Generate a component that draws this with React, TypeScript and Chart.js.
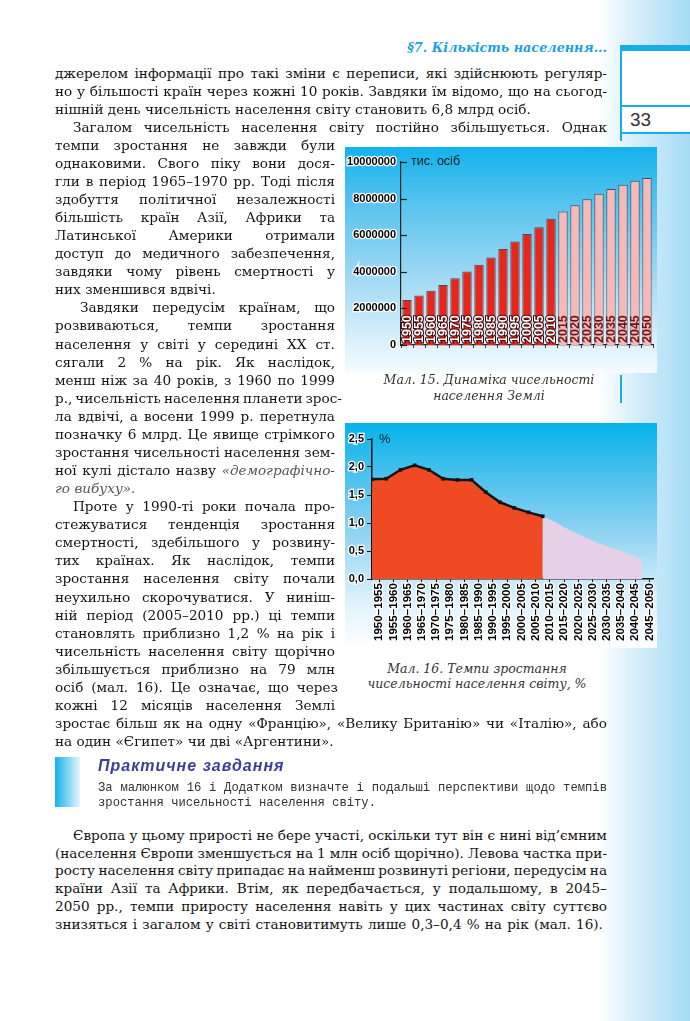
import React, { useEffect, useRef } from "react";
import { Chart, registerables } from "chart.js";

Chart.register(...registerables);

// ---------- Chart 15 data: world population, thousand people ----------
const years = ["1950","1955","1960","1965","1970","1975","1980","1985","1990","1995","2000","2005","2010","2015","2020","2025","2030","2035","2040","2045","2050"];
const population = [2460000, 2700000, 2960000, 3280000, 3650000, 4010000, 4380000, 4780000, 5250000, 5650000, 6060000, 6440000, 6900000, 7300000, 7640000, 7970000, 8260000, 8520000, 8760000, 8980000, 9120000];
const forecastStartYear = 2015;
const popTicks = [0, 2000000, 4000000, 6000000, 8000000, 10000000];

// ---------- Chart 16 data: growth rate, % per year ----------
const periods = ["1950–1955","1955–1960","1960–1965","1965–1970","1970–1975","1975–1980","1980–1985","1985–1990","1990–1995","1995–2000","2000–2005","2005–2010","2010–2015","2015–2020","2020–2025","2025–2030","2030–2035","2035–2040","2040–2045","2045–2050"];
const growthActual = [1.78, 1.79, 1.95, 2.03, 1.95, 1.79, 1.77, 1.77, 1.55, 1.37, 1.27, 1.19, 1.12];
const growthForecast = [1.12, 1.0, 0.86, 0.74, 0.63, 0.54, 0.45, 0.34];
const growthTicks = [0, 0.5, 1, 1.5, 2, 2.5];

const RED = "#e8261c";
const PINK = "#f6b8b8";
const AREA_RED = "#ef4a23";
const AREA_PINK = "#e6d0e7";
const TICK_FONT = { family: "'Liberation Sans', Arial, sans-serif", weight: "bold" as const, size: 11 };
const PERIOD_FONT = { family: "'Liberation Sans', Arial, sans-serif", weight: "bold" as const, size: 11.6 };

// ---------- page text ----------
// [text, justify, indent, width]
type Line = [string, boolean, number, number];
const FULL = 552;
const NARROW = 280;
const mainLines: Line[] = [
  ["джерелом інформації про такі зміни є переписи, які здійснюють регуляр-", true, 0, FULL],
  ["но у більшості країн через кожні 10 років. Завдяки їм відомо, що на сьогод-", true, 0, FULL],
  ["нішній день чисельність населення світу становить 6,8 млрд осіб.", false, 0, FULL],
  ["Загалом чисельність населення світу постійно збільшується. Однак", true, 18, FULL],
  ["темпи зростання не завжди були", true, 0, NARROW],
  ["однаковими. Свого піку вони дося-", true, 0, NARROW],
  ["гли в період 1965–1970 рр. Тоді після", true, 0, NARROW],
  ["здобуття політичної незалежності", true, 0, NARROW],
  ["більшість країн Азії, Африки та", true, 0, NARROW],
  ["Латинської Америки отримали", true, 0, NARROW],
  ["доступ до медичного забезпечення,", true, 0, NARROW],
  ["завдяки чому рівень смертності у", true, 0, NARROW],
  ["них зменшився вдвічі.", false, 0, NARROW],
  ["Завдяки передусім країнам, що", true, 25, NARROW],
  ["розвиваються, темпи зростання", true, 0, NARROW],
  ["населення у світі у середині XX ст.", true, 0, NARROW],
  ["сягали 2 % на рік. Як наслідок,", true, 0, NARROW],
  ["менш ніж за 40 років, з 1960 по 1999", true, 0, NARROW],
  ["р., чисельність населення планети зрос-", true, 0, 287],
  ["ла вдвічі, а восени 1999 р. перетнула", true, 0, NARROW],
  ["позначку 6 млрд. Це явище стрімкого", true, 0, NARROW],
  ["зростання чисельності населення зем-", true, 0, NARROW],
  ["ної кулі дістало назву ~«демографічно-", true, 0, NARROW],
  ["~го ~вибуху».", false, 0, NARROW],
  ["Проте у 1990-ті роки почала про-", true, 18, NARROW],
  ["стежуватися тенденція зростання", true, 0, NARROW],
  ["смертності, здебільшого у розвину-", true, 0, NARROW],
  ["тих країнах. Як наслідок, темпи", true, 0, NARROW],
  ["зростання населення світу почали", true, 0, NARROW],
  ["неухильно скорочуватися. У ниніш-", true, 0, NARROW],
  ["ній період (2005–2010 рр.) ці темпи", true, 0, NARROW],
  ["становлять приблизно 1,2 % на рік і", true, 0, NARROW],
  ["чисельність населення світу щорічно", true, 0, NARROW],
  ["збільшується приблизно на 79 млн", true, 0, NARROW],
  ["осіб (мал. 16). Це означає, що через", true, 0, 283],
  ["кожні 12 місяців населення Землі", true, 0, NARROW],
  ["зростає більш як на одну «Францію», «Велику Британію» чи «Італію», або", true, 0, FULL],
  ["на один «Єгипет» чи дві «Аргентини».", false, 0, FULL],
];
const finalLines: Line[] = [
  ["Європа у цьому прирості не бере участі, оскільки тут він є нині від’ємним", true, 18, FULL],
  ["(населення Європи зменшується на 1 млн осіб щорічно). Левова частка при-", true, 0, FULL],
  ["росту населення світу припадає на найменш розвинуті регіони, передусім на", true, 0, FULL],
  ["країни Азії та Африки. Втім, як передбачається, у подальшому, в 2045–", true, 0, FULL],
  ["2050 рр., темпи приросту населення навіть у цих частинах світу суттєво", true, 0, FULL],
  ["знизяться і загалом у світі становитимуть лише 0,3–0,4 % на рік (мал. 16).", true, 0, 548],
];
const taskLines: Line[] = [
  ["За малюнком 16 і Додатком визначте і подальші перспективи щодо темпів", true, 0, 509],
  ["зростання чисельності населення світу.", false, 0, 509],
];

const BODY_FONT = "'DejaVu Serif', 'Liberation Serif', serif";

function TextLine({ line, y, left, size, font, color, lh }: { line: Line; y: number; left: number; size: number; font: string; color: string; lh: number }) {
  const [text, justify, indent, width] = line;
  const words = text.split(" ");
  const render = (w: string, i: number) => {
    const italic = w.startsWith("~");
    const t = italic ? w.slice(1) : w;
    return (
      <span key={i} style={italic ? { fontStyle: "italic", color: "#555" } : undefined}>
        {t}
        {!justify && i < words.length - 1 ? " " : ""}
      </span>
    );
  };
  return (
    <div
      style={{
        position: "absolute",
        left: left + indent,
        top: y - lh / 2,
        width: width - indent,
        height: lh,
        lineHeight: lh + "px",
        fontFamily: font,
        fontSize: size,
        color,
        whiteSpace: "pre",
        display: "flex",
        justifyContent: justify ? "space-between" : "flex-start",
      }}
    >
      {words.map(render)}
    </div>
  );
}

function ChartCanvas({ left, top, width, height, make }: { left: number; top: number; width: number; height: number; make: () => any }) {
  const ref = useRef<HTMLCanvasElement | null>(null);
  useEffect(() => {
    const chart = new Chart(ref.current as HTMLCanvasElement, make());
    return () => chart.destroy();
  }, []);
  return (
    <canvas
      ref={ref}
      width={width}
      height={height}
      style={{ position: "absolute", left, top, width, height }}
    />
  );
}

// plugin: inward y ticks, unit label, year labels inside bars
const populationDecor = {
  id: "populationDecor",
  afterDatasetsDraw(chart: any) {
    const { ctx, chartArea } = chart;
    const y = chart.scales.y;
    ctx.save();
    ctx.strokeStyle = "#222";
    ctx.lineWidth = 1.2;
    popTicks.forEach((v) => {
      const py = Math.round(y.getPixelForValue(v)) + 0.5;
      ctx.beginPath();
      ctx.moveTo(chartArea.left, py);
      ctx.lineTo(chartArea.left + 6, py);
      ctx.stroke();
    });
    ctx.font = "12.5px 'Liberation Sans', Arial, sans-serif";
    ctx.fillStyle = "#1a1a1a";
    ctx.textBaseline = "middle";
    ctx.fillText("тис. осіб", chartArea.left + 10, y.getPixelForValue(popTicks[popTicks.length - 1]));
    const meta = chart.getDatasetMeta(0);
    meta.data.forEach((bar: any, i: number) => {
      const forecast = Number(years[i]) >= forecastStartYear;
      ctx.save();
      ctx.translate(bar.x + 0.5, bar.base - 2);
      ctx.rotate(-Math.PI / 2);
      ctx.font = "bold 12.5px 'Liberation Sans', Arial, sans-serif";
      ctx.textAlign = "left";
      ctx.textBaseline = "middle";
      if (forecast) {
        ctx.fillStyle = "#6e1414";
        ctx.fillText(years[i], 0, 0);
      } else {
        ctx.lineWidth = 2;
        ctx.strokeStyle = "#4a0606";
        ctx.strokeText(years[i], 0, 0);
        ctx.fillStyle = "#ffffff";
        ctx.fillText(years[i], 0, 0);
      }
      ctx.restore();
    });
    ctx.restore();
  },
};

const growthDecor = {
  id: "growthDecor",
  afterDraw(chart: any) {
    const { ctx, chartArea } = chart;
    const y = chart.scales.y;
    ctx.save();
    ctx.font = "13px 'Liberation Sans', Arial, sans-serif";
    ctx.fillStyle = "#1a1a1a";
    ctx.textBaseline = "middle";
    ctx.fillText("%", chartArea.left + 7, y.getPixelForValue(growthTicks[growthTicks.length - 1]));
    ctx.restore();
  },
};

function makePopulationChart() {
  return {
    type: "bar",
    data: {
      labels: years,
      datasets: [
        {
          data: population,
          backgroundColor: years.map((yr) => (Number(yr) >= forecastStartYear ? PINK : RED)),
          borderColor: "#4a4a4a",
          borderWidth: 1,
          barPercentage: 0.78,
          categoryPercentage: 1,
        },
      ],
    },
    options: {
      animation: false,
      responsive: false,
      maintainAspectRatio: false,
      layout: { padding: { top: 15, right: 4, left: 0, bottom: 0 } },
      plugins: { legend: { display: false }, tooltip: { enabled: false } },
      scales: {
        x: {
          grid: { drawOnChartArea: false, drawTicks: true, tickLength: 3, color: "#333", offset: true },
          border: { display: true, color: "#222", width: 1.2 },
          ticks: { display: false },
          afterFit: (s: any) => {
            s.height = 28;
          },
        },
        y: {
          min: 0,
          max: 10000000,
          afterBuildTicks: (s: any) => {
            s.ticks = popTicks.map((v) => ({ value: v }));
          },
          ticks: {
            callback: (v: number) => String(v),
            font: TICK_FONT,
            color: "#000",
            textStrokeColor: "#ffffff",
            textStrokeWidth: 2.5,
            padding: 5,
          },
          grid: { display: false, drawTicks: false, tickLength: 0 },
          border: { display: true, color: "#222", width: 1.2 },
          afterFit: (s: any) => {
            s.width = 56;
          },
        },
      },
    },
    plugins: [populationDecor],
  };
}

function makeGrowthChart() {
  const start = growthActual.length - 1;
  return {
    type: "line",
    data: {
      datasets: [
        {
          data: growthActual.map((v, i) => ({ x: i, y: v })),
          borderColor: "#151515",
          borderWidth: 2.5,
          backgroundColor: AREA_RED,
          fill: "origin",
          pointStyle: "rect",
          pointRadius: 2.6,
          pointBackgroundColor: "#151515",
          pointBorderColor: "#151515",
          pointBorderWidth: 0,
          tension: 0,
        },
        {
          data: growthForecast.map((v, i) => ({ x: start + i, y: v })),
          borderWidth: 0,
          borderColor: "rgba(0,0,0,0)",
          backgroundColor: AREA_PINK,
          fill: "origin",
          pointRadius: 0,
          tension: 0.2,
        },
      ],
    },
    options: {
      animation: false,
      responsive: false,
      maintainAspectRatio: false,
      layout: { padding: { top: 16, right: 2, left: 0, bottom: 0 } },
      plugins: { legend: { display: false }, tooltip: { enabled: false } },
      scales: {
        x: {
          type: "linear",
          min: 0,
          max: periods.length - 0.25,
          afterBuildTicks: (s: any) => {
            s.ticks = periods.map((_, i) => ({ value: i + 0.5 }));
          },
          ticks: {
            autoSkip: false,
            maxRotation: 90,
            minRotation: 90,
            callback: (_v: number, i: number) => periods[i],
            font: PERIOD_FONT,
            color: "#000",
            textStrokeColor: "#ffffff",
            textStrokeWidth: 2.5,
            padding: 1,
          },
          grid: { drawOnChartArea: false, drawTicks: true, tickLength: 3, color: "#111" },
          border: { display: true, color: "#111", width: 1.5 },
          afterFit: (s: any) => {
            s.height = 69;
            s.paddingLeft = 0;
            s.paddingRight = 0;
          },
        },
        y: {
          min: 0,
          max: 2.5,
          afterBuildTicks: (s: any) => {
            s.ticks = growthTicks.map((v) => ({ value: v }));
          },
          ticks: {
            callback: (v: number) => v.toFixed(1).replace(".", ","),
            font: TICK_FONT,
            color: "#000",
            textStrokeColor: "#ffffff",
            textStrokeWidth: 2.5,
            padding: 3,
          },
          grid: { drawOnChartArea: false, drawTicks: true, tickLength: 5, color: "#111" },
          border: { display: true, color: "#111", width: 1.5 },
          afterFit: (s: any) => {
            s.width = 27;
          },
        },
      },
    },
    plugins: [growthDecor],
  };
}

const BLUE = "#16aee8";
const BODY_SIZE = 13.6;

export default function App() {
  return (
    <div style={{ position: "absolute", left: 0, top: 0, width: 690, height: 1021, background: "#fff", overflow: "hidden" }}>
      {/* right margin strip */}
      <div style={{ position: "absolute", left: 598, top: 0, width: 92, height: 1021, background: "linear-gradient(to right, #ffffff 0%, #d6eefa 40%, #a6dbf5 100%)" }} />
      {/* page number box */}
      <div style={{ position: "absolute", left: 621, top: 45, width: 69, height: 6, background: BLUE }} />
      <div style={{ position: "absolute", left: 621, top: 51, width: 69, height: 82, background: "#fff" }} />
      <div style={{ position: "absolute", left: 620, top: 45, width: 1.5, height: 96, background: BLUE }} />
      <div style={{ position: "absolute", left: 621, top: 105, width: 69, height: 1.5, background: BLUE }} />
      <div style={{ position: "absolute", left: 621, top: 132, width: 69, height: 1.5, background: BLUE }} />
      <div style={{ position: "absolute", left: 630, top: 108, fontFamily: "'Liberation Sans', Arial, sans-serif", fontSize: 19, color: "#333", lineHeight: "24px" }}>33</div>

      {/* running header */}
      <div style={{ position: "absolute", right: 690 - 607, top: 40, fontFamily: BODY_FONT, fontStyle: "italic", fontWeight: 600, fontSize: 12.8, color: "#1c9fdc", lineHeight: "16px", whiteSpace: "nowrap" }}>
        §7. Кількість населення...
      </div>

      {/* chart panels */}
      <div style={{ position: "absolute", left: 345, top: 147, width: 312, height: 226, background: "linear-gradient(to bottom, #12b2ec 0%, #57c3ef 25%, #9ad7f3 55%, #d9f0fb 85%, #f6fbfe 100%)" }} />
      <ChartCanvas left={345} top={147} width={312} height={226} make={makePopulationChart} />
      <div style={{ position: "absolute", left: 345, top: 423, width: 312, height: 225, background: "linear-gradient(to bottom, #05b3ea 0%, #4fc2ee 25%, #98d6f3 52%, #dcf1fb 78%, #ffffff 100%)" }} />
      <ChartCanvas left={345} top={423} width={312} height={225} make={makeGrowthChart} />

      {/* captions */}
      <div style={{ position: "absolute", left: 345, width: 288, top: 372, textAlign: "center", fontFamily: BODY_FONT, fontStyle: "italic", fontSize: 12.5, color: "#333", lineHeight: "16px" }}>
        Мал. 15. Динаміка чисельності
        <br />
        населення Землі
      </div>
      <div style={{ position: "absolute", left: 620, top: 375, width: 1.5, height: 28, background: BLUE }} />
      <div style={{ position: "absolute", left: 345, width: 264, top: 661, textAlign: "center", fontFamily: BODY_FONT, fontStyle: "italic", fontSize: 12.5, color: "#333", lineHeight: "15px" }}>
        Мал. 16. Темпи зростання
        <br />
        чисельності населення світу, %
      </div>

      {/* body text */}
      {mainLines.map((l, i) => (
        <TextLine key={i} line={l} y={72.5 + i * 18.07} left={55} size={BODY_SIZE} font={BODY_FONT} color="#141414" lh={18} />
      ))}
      {finalLines.map((l, i) => (
        <TextLine key={"f" + i} line={l} y={835 + i * 17.7} left={55} size={BODY_SIZE} font={BODY_FONT} color="#141414" lh={18} />
      ))}

      {/* practical task */}
      <div style={{ position: "absolute", left: 55, top: 757, width: 25, height: 50, background: "linear-gradient(to right, #12b2ec, #e8f6fd)" }} />
      <div style={{ position: "absolute", left: 98, top: 756, fontFamily: "'Liberation Sans', Arial, sans-serif", fontWeight: "bold", fontStyle: "italic", fontSize: 16, letterSpacing: 1, color: "#3b3f9c", lineHeight: "20px", whiteSpace: "nowrap" }}>
        Практичне завдання
      </div>
      {taskLines.map((l, i) => (
        <TextLine key={"t" + i} line={l} y={788 + i * 15} left={98} size={12.2} font={"'Liberation Mono', 'DejaVu Sans Mono', monospace"} color="#333" lh={15} />
      ))}
    </div>
  );
}
